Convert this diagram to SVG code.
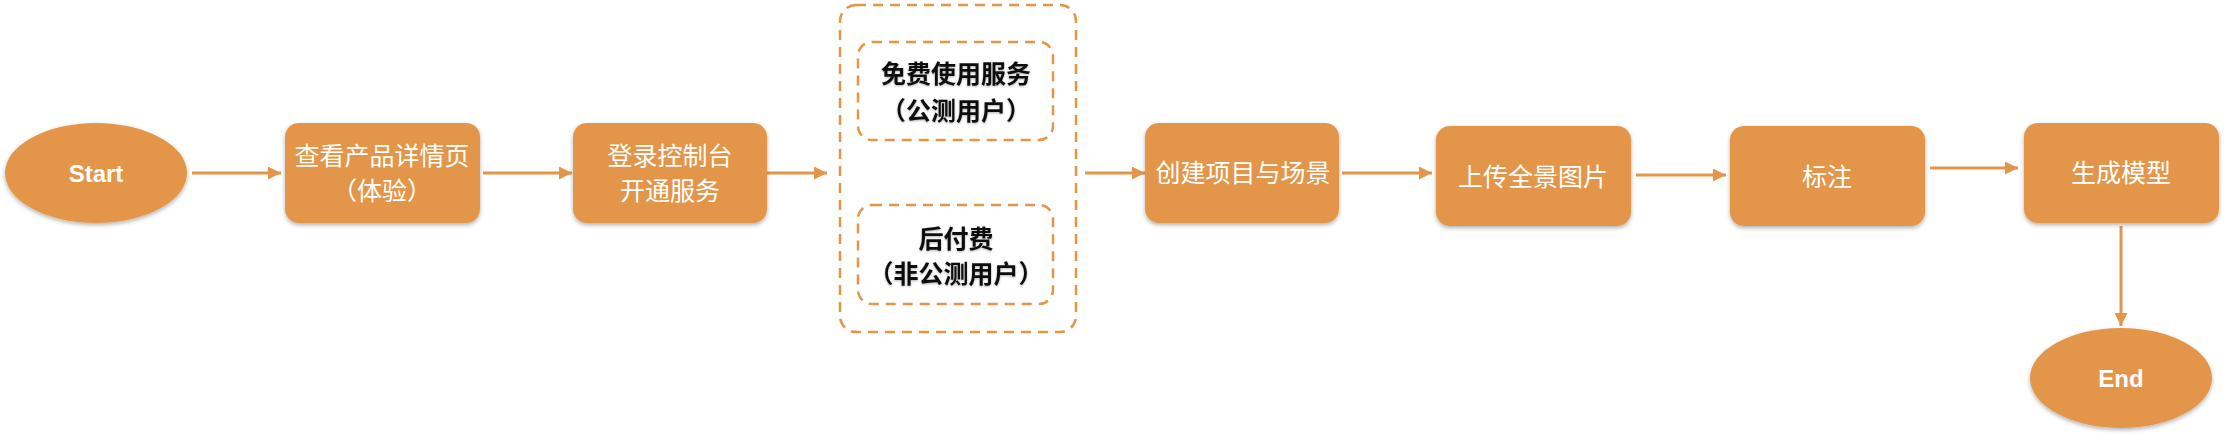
<svg xmlns="http://www.w3.org/2000/svg" width="2224" height="435" viewBox="0 0 2224 435">
<style>
.box{fill:#E3964A}
.lbl{font-family:"Liberation Sans","Noto Sans CJK SC",sans-serif;font-size:25px;fill:#fff;text-anchor:middle}
.term{font-family:"Liberation Sans",sans-serif;font-size:24px;font-weight:bold;fill:#fff;text-anchor:middle}
.dark{font-family:"Liberation Sans","Noto Sans CJK SC",sans-serif;font-size:25px;font-weight:bold;fill:#111;text-anchor:middle}
.dash{fill:none;stroke:#E3964A;stroke-width:2.5;stroke-dasharray:10 7}
.conn{fill:none;stroke:#E3964A;stroke-width:3}
</style>
<defs>
<filter id="sh" x="-10%" y="-10%" width="120%" height="130%">
<feDropShadow dx="0" dy="2" stdDeviation="2" flood-color="#000" flood-opacity="0.3"/>
</filter>
<filter id="tsh" x="-10%" y="-20%" width="120%" height="140%">
<feDropShadow dx="0" dy="1" stdDeviation="1" flood-color="#000" flood-opacity="0.3"/>
</filter>
<marker id="ah" viewBox="0 0 13 13" refX="13" refY="6.5" markerWidth="13" markerHeight="13" markerUnits="userSpaceOnUse" orient="auto">
<path d="M0,0 L13,6.5 L0,13 Z" fill="#E3964A"/>
</marker>
</defs>
<g id="connectors">
<line class="conn" x1="192" y1="173" x2="281" y2="173" marker-end="url(#ah)"/>
<line class="conn" x1="483" y1="173" x2="572" y2="173" marker-end="url(#ah)"/>
<line class="conn" x1="767" y1="173" x2="827" y2="173" marker-end="url(#ah)"/>
<line class="conn" x1="1085" y1="173" x2="1145" y2="173" marker-end="url(#ah)"/>
<line class="conn" x1="1342" y1="173" x2="1432" y2="173" marker-end="url(#ah)"/>
<line class="conn" x1="1636" y1="175" x2="1726" y2="175" marker-end="url(#ah)"/>
<line class="conn" x1="1930" y1="168" x2="2018" y2="168" marker-end="url(#ah)"/>
<line class="conn" x1="2121" y1="226" x2="2121" y2="326" marker-end="url(#ah)"/>
</g>
<g id="start">
<ellipse class="box" filter="url(#sh)" cx="96" cy="173" rx="91" ry="50"/>
<text class="term" x="96" y="182">Start</text>
</g>
<g id="n1">
<rect class="box" filter="url(#sh)" x="285" y="123" width="195" height="100" rx="14"/>
<text class="lbl" x="382" y="165">查看产品详情页</text>
<text class="lbl" x="382" y="200">（体验）</text>
</g>
<g id="n2">
<rect class="box" filter="url(#sh)" x="573" y="123" width="194" height="100" rx="14"/>
<text class="lbl" x="670" y="165">登录控制台</text>
<text class="lbl" x="670" y="200">开通服务</text>
</g>
<g id="group">
<rect class="dash" x="840" y="5" width="236" height="327" rx="16"/>
</g>
<g id="free">
<rect class="dash" x="858" y="42" width="195" height="98" rx="14"/>
<text class="dark" filter="url(#tsh)" x="956" y="83">免费使用服务</text>
<text class="dark" filter="url(#tsh)" x="956" y="120">（公测用户）</text>
</g>
<g id="postpaid">
<rect class="dash" x="858" y="205" width="195" height="99" rx="14"/>
<text class="dark" filter="url(#tsh)" x="956" y="248">后付费</text>
<text class="dark" filter="url(#tsh)" x="956" y="283">（非公测用户）</text>
</g>
<g id="n3">
<rect class="box" filter="url(#sh)" x="1145" y="123" width="194" height="100" rx="14"/>
<text class="lbl" x="1243" y="182">创建项目与场景</text>
</g>
<g id="n4">
<rect class="box" filter="url(#sh)" x="1436" y="126" width="195" height="100" rx="14"/>
<text class="lbl" x="1533" y="186">上传全景图片</text>
</g>
<g id="n5">
<rect class="box" filter="url(#sh)" x="1730" y="126" width="195" height="100" rx="14"/>
<text class="lbl" x="1827" y="186">标注</text>
</g>
<g id="n6">
<rect class="box" filter="url(#sh)" x="2024" y="123" width="195" height="100" rx="14"/>
<text class="lbl" x="2121" y="182">生成模型</text>
</g>
<g id="end">
<ellipse class="box" filter="url(#sh)" cx="2121" cy="378" rx="91" ry="50"/>
<text class="term" x="2121" y="387">End</text>
</g>
</svg>
